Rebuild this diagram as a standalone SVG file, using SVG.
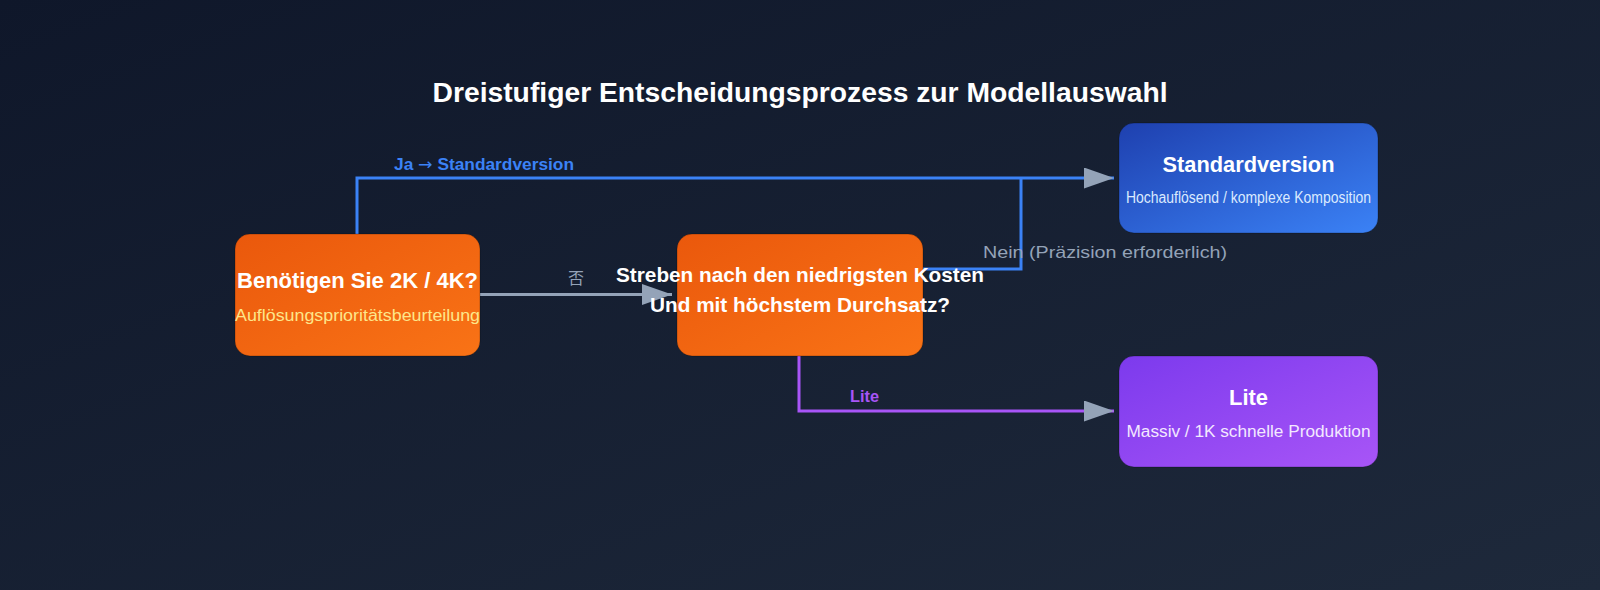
<svg xmlns="http://www.w3.org/2000/svg" width="1600" height="590" viewBox="0 0 1600 590">
  <defs>
    <linearGradient id="bg" x1="0" y1="0" x2="1" y2="1">
      <stop offset="0" stop-color="#0f172a"/>
      <stop offset="1" stop-color="#1e293b"/>
    </linearGradient>
    <linearGradient id="gOrange" x1="0" y1="0" x2="1" y2="1">
      <stop offset="0" stop-color="#ea580c"/>
      <stop offset="1" stop-color="#f97316"/>
    </linearGradient>
    <linearGradient id="gBlue" x1="0" y1="0" x2="1" y2="1">
      <stop offset="0" stop-color="#1e40af"/>
      <stop offset="1" stop-color="#3b82f6"/>
    </linearGradient>
    <linearGradient id="gPurple" x1="0" y1="0" x2="1" y2="1">
      <stop offset="0" stop-color="#7c3aed"/>
      <stop offset="1" stop-color="#a855f7"/>
    </linearGradient>
    <marker id="arrow" viewBox="0 0 10 7" markerWidth="10" markerHeight="7" refX="10" refY="3.5" orient="auto" markerUnits="strokeWidth">
      <path d="M0,0 L10,3.5 L0,7 z" fill="#94a3b8"/>
    </marker>
  </defs>
  <style>
    text { font-family: "Liberation Sans", Arial, Helvetica, sans-serif; }
    .box { stroke: rgba(0,0,0,0.25); stroke-width: 1; }
    .title { font-size: 28px; font-weight: bold; fill: #ffffff; }
    .ntitle { font-size: 22px; font-weight: bold; fill: #ffffff; }
    .nsub { font-size: 16px; }
    .conn { fill: none; stroke-width: 3; }
    .lbl { font-size: 16px; font-weight: bold; }
    .glbl { font-size: 17px; fill: #94a3b8; }
  </style>

  <rect x="0" y="0" width="1600" height="590" fill="url(#bg)"/>

  <text class="title" x="800" y="102" text-anchor="middle" textLength="735" lengthAdjust="spacingAndGlyphs">Dreistufiger Entscheidungsprozess zur Modellauswahl</text>

  <g id="connectors">
    <path class="conn" d="M357 234 V178 H1114" stroke="#3b82f6" marker-end="url(#arrow)"/>
    <path class="conn" d="M923 269 H1021 V178" stroke="#3b82f6"/>
    <path class="conn" d="M480 294.5 H672" stroke="#94a3b8" marker-end="url(#arrow)"/>
    <path class="conn" d="M799 356 V411 H1114" stroke="#a855f7" marker-end="url(#arrow)"/>
    <text class="lbl" x="394" y="170" fill="#3b82f6" textLength="180" lengthAdjust="spacingAndGlyphs">Ja <tspan style="font-family: 'DejaVu Sans', sans-serif; font-weight: normal;">→</tspan> Standardversion</text>
    <text class="glbl" x="576" y="284" text-anchor="middle" style="font-family: 'Noto Sans CJK SC', sans-serif; font-size: 16px;">否</text>
    <text class="glbl" x="983" y="258" textLength="244" lengthAdjust="spacingAndGlyphs">Nein (Präzision erforderlich)</text>
    <text class="lbl" x="850" y="402" fill="#a855f7" textLength="29" lengthAdjust="spacingAndGlyphs">Lite</text>
  </g>

  <g id="node-resolution">
    <rect class="box" x="235" y="234" width="245" height="122" rx="15" fill="url(#gOrange)"/>
    <text class="ntitle" x="357.5" y="288" text-anchor="middle" textLength="241" lengthAdjust="spacingAndGlyphs">Benötigen Sie 2K / 4K?</text>
    <text class="nsub" x="357.5" y="321" text-anchor="middle" fill="#fde68a" textLength="245" lengthAdjust="spacingAndGlyphs">Auflösungsprioritätsbeurteilung</text>
  </g>

  <g id="node-cost">
    <rect class="box" x="677" y="234" width="246" height="122" rx="15" fill="url(#gOrange)"/>
    <text class="ntitle" x="800" y="282" text-anchor="middle" textLength="368" lengthAdjust="spacingAndGlyphs" style="font-size:21px">Streben nach den niedrigsten Kosten</text>
    <text class="ntitle" x="800" y="312" text-anchor="middle" textLength="300" lengthAdjust="spacingAndGlyphs" style="font-size:21px">Und mit höchstem Durchsatz?</text>
  </g>

  <g id="node-standard">
    <rect class="box" x="1119" y="123" width="259" height="110" rx="15" fill="url(#gBlue)"/>
    <text class="ntitle" x="1248.5" y="172" text-anchor="middle" textLength="172" lengthAdjust="spacingAndGlyphs">Standardversion</text>
    <text class="nsub" x="1248.5" y="203" text-anchor="middle" fill="#dbeafe" textLength="245" lengthAdjust="spacingAndGlyphs">Hochauflösend / komplexe Komposition</text>
  </g>

  <g id="node-lite">
    <rect class="box" x="1119" y="356" width="259" height="111" rx="15" fill="url(#gPurple)"/>
    <text class="ntitle" x="1248.5" y="405" text-anchor="middle" textLength="39" lengthAdjust="spacingAndGlyphs">Lite</text>
    <text class="nsub" x="1248.5" y="437" text-anchor="middle" fill="#f3e8ff" textLength="244" lengthAdjust="spacingAndGlyphs">Massiv / 1K schnelle Produktion</text>
  </g>
</svg>
